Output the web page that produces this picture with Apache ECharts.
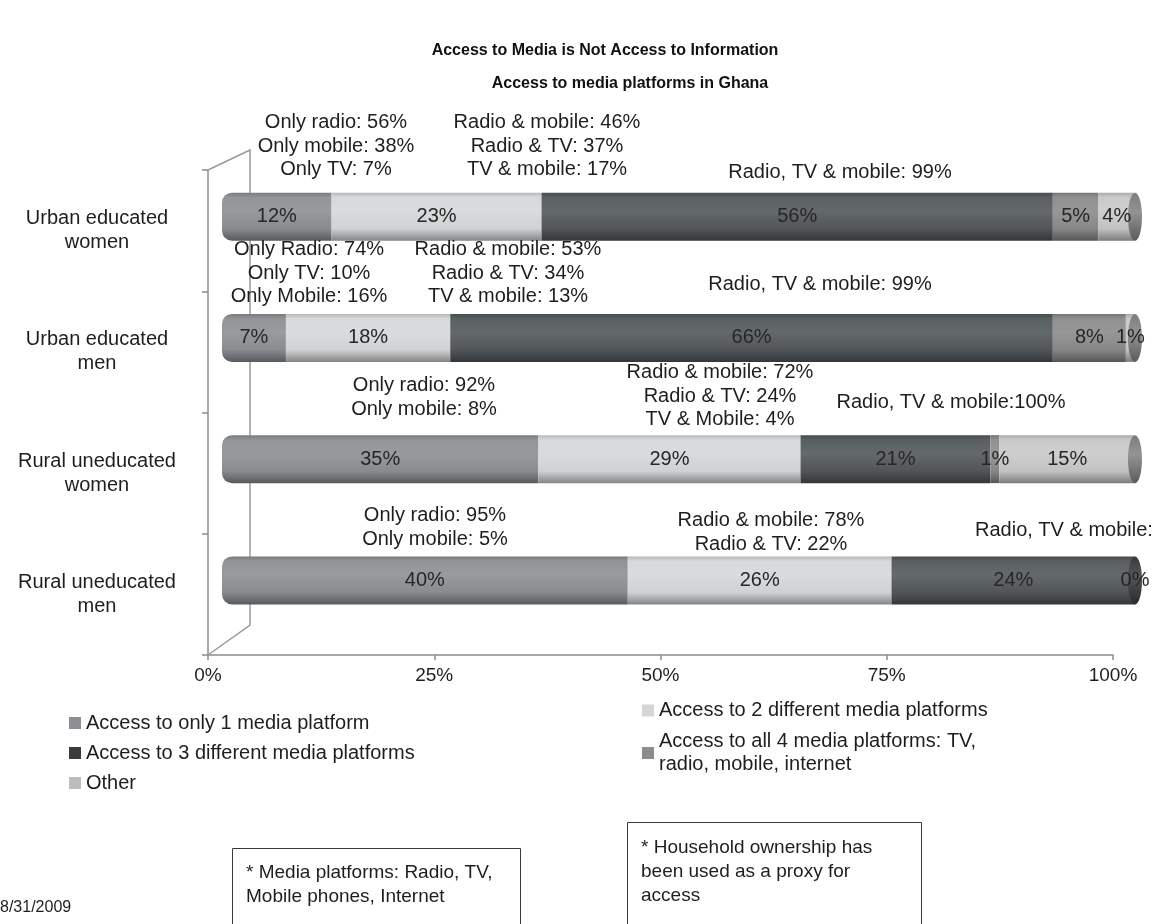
<!DOCTYPE html>
<html>
<head>
<meta charset="utf-8">
<script src="https://cdn.jsdelivr.net/npm/echarts@6/dist/echarts.min.js"></script>
<style>
  html, body { margin: 0; padding: 0; background: #ffffff; }
  #chart { width: 1158px; height: 924px; }
</style>
</head>
<body>
<div id="chart"></div>
<script>
// ---- Data -------------------------------------------------------------
const categories = ['Urban educated women', 'Urban educated men', 'Rural uneducated women', 'Rural uneducated men'];

const seriesNames = [
  'Access to only 1 media platform',
  'Access to 2 different media platforms',
  'Access to 3 different media platforms',
  'Access to all 4 media platforms: TV, radio, mobile, internet',
  'Other'
];

// Shares (%) per group, in the order of `categories`
const onlyOne        = [12, 7, 35, 40];
const twoPlatforms   = [23, 18, 29, 26];
const threePlatforms = [56, 66, 21, 24];
const allFour        = [5, 8, 1, 0];
const other          = [4, 1, 15, null];

const xTicks = [0, 25, 50, 75, 100];

// Breakdown notes written above each bar
const notes = [
  'Only radio: 56%\nOnly mobile: 38%\nOnly TV: 7%',
  'Radio & mobile: 46%\nRadio & TV: 37%\nTV & mobile: 17%',
  'Radio, TV & mobile: 99%',
  'Only Radio: 74%\nOnly TV: 10%\nOnly Mobile: 16%',
  'Radio & mobile: 53%\nRadio & TV: 34%\nTV & mobile: 13%',
  'Radio, TV & mobile: 99%',
  'Only radio: 92%\nOnly mobile: 8%',
  'Radio & mobile: 72%\nRadio & TV: 24%\nTV & Mobile: 4%',
  'Radio, TV & mobile:100%',
  'Only radio: 95%\nOnly mobile: 5%',
  'Radio & mobile: 78%\nRadio & TV: 22%',
  'Radio, TV & mobile:'
];

const footnotes = [
  '* Media platforms: Radio, TV,\nMobile phones, Internet',
  '* Household ownership has\nbeen used as a proxy for\naccess'
];
const dateText = '8/31/2009';

// ---- Layout & style ---------------------------------------------------
const FONT = '"Liberation Sans", Arial, Helvetica, sans-serif';
const TEXT = '#1e1e1e';
// note anchors: [x, y of first line centre, align]
const noteLayout = [
  [336, 123, 'center'], [547, 123, 'center'], [840, 173, 'center'],
  [309, 250, 'center'], [508, 250, 'center'], [820, 285, 'center'],
  [424, 386, 'center'], [720, 373, 'center'], [951, 403, 'center'],
  [435, 516, 'center'], [771, 521, 'center'], [975, 531, 'left']
];
const baseColors   = ['#8d9093', '#d5d7d9', '#53585b', '#8b8b8b', '#c8c8c8'];
const legendColors = ['#8e8f93', '#d4d6d8', '#3d393c', '#8c8c8c', '#bdbdbd'];
const capColors    = ['#6d7073', '#a0a3a5', '#3b3e41', '#6c6c6c', '#848484'];

function shade(hex, amt) {
  const n = parseInt(hex.slice(1), 16);
  const ch = [n >> 16, (n >> 8) & 255, n & 255].map(c =>
    amt >= 0 ? Math.round(c + (255 - c) * amt) : Math.round(c * (1 + amt)));
  return 'rgb(' + ch.join(',') + ')';
}
function cylinder(hex) {
  return new echarts.graphic.LinearGradient(0, 0, 0, 1, [
    { offset: 0.00, color: shade(hex, -0.15) },
    { offset: 0.10, color: shade(hex, 0.04) },
    { offset: 0.38, color: shade(hex, 0.10) },
    { offset: 0.75, color: shade(hex, -0.03) },
    { offset: 1.00, color: shade(hex, -0.38) }
  ]);
}

// Each bar fills the full width: values are scaled by the group total
const valueSets = [onlyOne, twoPlatforms, threePlatforms, allFour, other];
const totals = categories.map((_, i) =>
  valueSets.reduce((s, arr) => s + (arr[i] == null ? 0 : arr[i]), 0));
const lastSeg = categories.map((_, i) => {
  let k = 0;
  valueSets.forEach((arr, s) => { if (arr[i] > 0) k = s; });
  return k;
});

const barSeries = valueSets.map((arr, s) => ({
  name: seriesNames[s],
  type: 'bar',
  stack: 'share',
  xAxisIndex: 1,
  yAxisIndex: 1,
  barWidth: 48,
  z: 3,
  itemStyle: {
    color: cylinder(baseColors[s]),
    borderRadius: s === 0 ? [10, 0, 0, 10] : 0
  },
  label: {
    show: true,
    position: 'inside',
    formatter: p => p.data.raw + '%',
    color: '#262626',
    fontSize: 20,
    fontFamily: FONT
  },
  data: arr.map((v, i) => v == null ? '-' : { value: v / totals[i] * 100, raw: v })
}));

// Round end cap of each cylinder (above the bar bodies, below their labels)
const capSeries = {
  type: 'custom',
  xAxisIndex: 1,
  yAxisIndex: 1,
  z: 3,
  silent: true,
  data: categories.map((_, i) => [100, i]),
  renderItem: (params, api) => {
    const p = api.coord([api.value(0), api.value(1)]);
    const c = capColors[lastSeg[params.dataIndex]];
    return {
      type: 'ellipse',
      z2: 1,
      shape: { cx: p[0], cy: p[1], rx: 7, ry: 24 },
      style: {
        fill: new echarts.graphic.LinearGradient(0, 0, 0, 1, [
          { offset: 0, color: shade(c, -0.05) },
          { offset: 0.4, color: shade(c, 0.12) },
          { offset: 1, color: shade(c, -0.3) }
        ])
      }
    };
  }
};

const graphics = [
  // back wall of the plot area
  {
    type: 'polyline', z: 1, silent: true,
    shape: { points: [[208, 170], [250, 150], [250, 625], [208, 655]] },
    style: { stroke: '#9a9a9a', lineWidth: 1.5, fill: null }
  },
  {
    type: 'text', x: 0, y: 908,
    style: { text: dateText, font: '16px ' + FONT, fill: TEXT, verticalAlign: 'middle' }
  },
  {
    type: 'rect', shape: { x: 232.5, y: 848.5, width: 288, height: 110 },
    style: { stroke: '#3a3a3a', lineWidth: 1, fill: '#fff' }
  },
  {
    type: 'text', x: 246, y: 861,
    style: { text: footnotes[0], font: '19px ' + FONT, fill: TEXT, lineHeight: 24, verticalAlign: 'top' }
  },
  {
    type: 'rect', shape: { x: 627.5, y: 822.5, width: 294, height: 140 },
    style: { stroke: '#3a3a3a', lineWidth: 1, fill: '#fff' }
  },
  {
    type: 'text', x: 641, y: 836,
    style: { text: footnotes[1], font: '19px ' + FONT, fill: TEXT, lineHeight: 24, verticalAlign: 'top' }
  }
].concat(notes.map((t, k) => ({
  type: 'text', z: 5,
  x: noteLayout[k][0], y: noteLayout[k][1] - 12,
  style: {
    text: t, font: '20px ' + FONT, fill: TEXT, lineHeight: 23.5,
    align: noteLayout[k][2], verticalAlign: 'top'
  }
})));

const chart = echarts.init(document.getElementById('chart'), null, { renderer: 'canvas' });

chart.setOption({
  backgroundColor: '#ffffff',
  animation: false,
  textStyle: { fontFamily: FONT },
  title: [
    {
      text: 'Access to Media is Not Access to Information',
      left: 600, top: 38, textAlign: 'center',
      textStyle: { fontSize: 16, fontWeight: 'bold', color: '#111', fontFamily: FONT }
    },
    {
      text: 'Access to media platforms in Ghana',
      left: 625, top: 71, textAlign: 'center',
      textStyle: { fontSize: 16, fontWeight: 'bold', color: '#111', fontFamily: FONT }
    }
  ],
  legend: [
    {
      data: [0, 2, 4].map(s => ({ name: seriesNames[s], itemStyle: { color: legendColors[s] } })),
      orient: 'vertical', left: 64, top: 708,
      icon: 'rect', itemWidth: 12, itemHeight: 12, itemGap: 10,
      selectedMode: false,
      textStyle: { fontSize: 20, color: TEXT, fontFamily: FONT }
    },
    {
      data: [1, 3].map(s => ({ name: seriesNames[s], itemStyle: { color: legendColors[s] } })),
      orient: 'vertical', left: 637, top: 694,
      icon: 'rect', itemWidth: 12, itemHeight: 12, itemGap: 8,
      selectedMode: false,
      formatter: name => name.replace('TV, ', 'TV,\n'),
      textStyle: { fontSize: 20, lineHeight: 23, color: TEXT, fontFamily: FONT }
    }
  ],
  grid: [
    { left: 208, top: 170, width: 905, height: 485 },
    { left: 222, top: 156, width: 913, height: 485 }
  ],
  xAxis: [
    {
      gridIndex: 0, type: 'value', min: xTicks[0], max: xTicks[xTicks.length - 1], interval: 25,
      axisLine: { show: true, lineStyle: { color: '#8c8c8c', width: 1.5 } },
      axisTick: { show: true, length: 5, lineStyle: { color: '#8c8c8c', width: 1.5 } },
      splitLine: { show: false },
      axisLabel: { formatter: v => v + '%', fontSize: 19, color: TEXT, fontFamily: FONT, margin: 11 }
    },
    { gridIndex: 1, type: 'value', min: 0, max: 100, show: false }
  ],
  yAxis: [
    {
      gridIndex: 0, type: 'category', data: categories, inverse: true,
      axisLine: { show: true, lineStyle: { color: '#8c8c8c', width: 1.5 } },
      axisTick: { show: true, length: 6, lineStyle: { color: '#8c8c8c', width: 1.5 } },
      axisLabel: {
        formatter: v => { const k = v.lastIndexOf(' '); return v.slice(0, k) + '\n' + v.slice(k + 1); },
        align: 'center', margin: 111, fontSize: 20, lineHeight: 24, color: TEXT, fontFamily: FONT
      }
    },
    { gridIndex: 1, type: 'category', data: categories, inverse: true, show: false }
  ],
  graphic: graphics,
  series: barSeries.concat([capSeries])
});
</script>
</body>
</html>
